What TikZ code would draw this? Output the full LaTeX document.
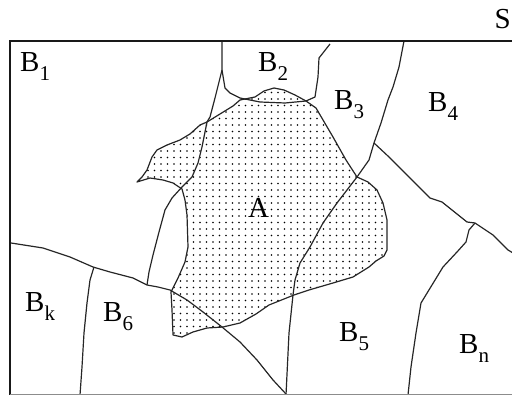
\documentclass[tikz,border=0pt]{standalone}
\usepackage{fontspec}
\setmainfont{Liberation Serif}
\newcommand\lb[2]{{\fontsize{29}{32}\selectfont #1}\raisebox{-9pt}{\fontsize{21}{23}\selectfont #2}}
\begin{document}
\begin{tikzpicture}[x=1pt,y=-1pt,
  bnd/.style={line width=1.2pt, black!85, line join=round},
  frame/.style={line width=2pt, black!90},
  lbl/.style={anchor=base west, inner sep=0pt}]
\useasboundingbox (0,0) rectangle (512,395);
% dots of region A
\begin{scope}
\clip (306,101) -- (295,95) -- (284,90) -- (274,88) -- (264,91) -- (255,97) -- (240,100) -- (233,106) -- (220,114) -- (207,122) -- (200,125) -- (190,134) -- (180,140) -- (167,145) -- (157,150) -- (152,157) -- (147,170) -- (142,177) -- (137,182) -- (150,178) -- (163,180) -- (173,183) -- (182,189) -- (185,200) -- (187,215) -- (188,247) -- (185,262) -- (178,278) -- (171,292) -- (172,310) -- (173,335) -- (182,337) -- (193,332) -- (207,328) -- (223,327) -- (240,323) -- (256,314) -- (269,305) -- (289,297) -- (294,295) -- (309,290) -- (333,283) -- (353,277) -- (369,267) -- (376,261) -- (384,256) -- (387,250) -- (387,220) -- (383,203) -- (377,190) -- (368,182) -- (357,177) -- (346,160) -- (333,137) -- (316,108) -- cycle;
\foreach \i in {0,...,40}{
  \foreach \j in {0,...,40}{
    \fill[black] ({135+\i*6.5},{86+\j*6.5}) circle (0.85);
  }
}
\end{scope}
% outline of A
\draw[bnd] (306,101) -- (295,95) -- (284,90) -- (274,88) -- (264,91) -- (255,97) -- (240,100) -- (233,106) -- (220,114) -- (207,122) -- (200,125) -- (190,134) -- (180,140) -- (167,145) -- (157,150) -- (152,157) -- (147,170) -- (142,177) -- (137,182) -- (150,178) -- (163,180) -- (173,183) -- (182,189) -- (185,200) -- (187,215) -- (188,247) -- (185,262) -- (178,278) -- (171,292) -- (172,310) -- (173,335) -- (182,337) -- (193,332) -- (207,328) -- (223,327) -- (240,323) -- (256,314) -- (269,305) -- (289,297) -- (294,295) -- (309,290) -- (333,283) -- (353,277) -- (369,267) -- (376,261) -- (384,256) -- (387,250) -- (387,220) -- (383,203) -- (377,190) -- (368,182) -- (357,177) -- (346,160) -- (333,137) -- (316,108) -- cycle;
% boundaries of the B regions
\draw[bnd] (222,41) -- (222,70) -- (215,98) -- (210,117) -- (207,122) -- (202,147) -- (198,163) -- (192,177) -- (182,187) -- (172,198) -- (165,210) -- (159,232) -- (153,255) -- (149,272) -- (147,285);
\draw[bnd] (222,70) -- (225,88) -- (230,93) -- (240,98) -- (260,102) -- (285,103) -- (306,101);
\draw[bnd] (330,44) -- (319,58) -- (318,77) -- (315,97) -- (306,101);
\draw[bnd] (404,41) -- (399,67) -- (393,87) -- (388,100) -- (381,123) -- (374,143) -- (369,160) -- (357,177) -- (347,190) -- (337,203) -- (323,223) -- (310,247) -- (300,263) -- (295,280) -- (293,295) -- (289,333) -- (286,395);
\draw[bnd] (374,143) -- (389,157) -- (409,177) -- (430,198) -- (442,202) -- (467,222) -- (475,223) -- (493,235) -- (508,250) -- (513,253);
\draw[bnd] (475,223) -- (469,230) -- (466,242) -- (457,252) -- (443,267) -- (432,285) -- (421,303) -- (416,333) -- (411,367) -- (408,395);
\draw[bnd] (11,243) -- (43,248) -- (70,257) -- (93,267) -- (110,272) -- (133,278) -- (147,285) -- (158,287) -- (170,290) -- (187,300) -- (203,312) -- (222,327) -- (240,342) -- (257,360) -- (273,380) -- (286,394);
\draw[bnd] (94,267) -- (90,280) -- (87,303) -- (84,333) -- (82,367) -- (80,395);
% frame of S
\draw[frame] (530,41) -- (10,41) -- (10,395);
\draw[line width=1pt, black!45] (10,394.5) -- (512,394.5);
% labels
\node[anchor=base east, inner sep=0pt] (s) at (511,29) {\fontsize{29}{32}\selectfont S};
\node[lbl] (b1) at (20,72)   {\lb{B}{1}};
\node[lbl] (b2) at (258,72)  {\lb{B}{2}};
\node[lbl] (b3) at (334,110) {\lb{B}{3}};
\node[lbl] (b4) at (428,112) {\lb{B}{4}};
\node[lbl] (a)  at (248,218) {\fontsize{29}{32}\selectfont A};
\node[lbl] (bk) at (25,312)  {\lb{B}{k}};
\node[lbl] (b6) at (103,322) {\lb{B}{6}};
\node[lbl] (b5) at (339,342) {\lb{B}{5}};
\node[lbl] (bn) at (459,354) {\lb{B}{n}};
\end{tikzpicture}
\end{document}
